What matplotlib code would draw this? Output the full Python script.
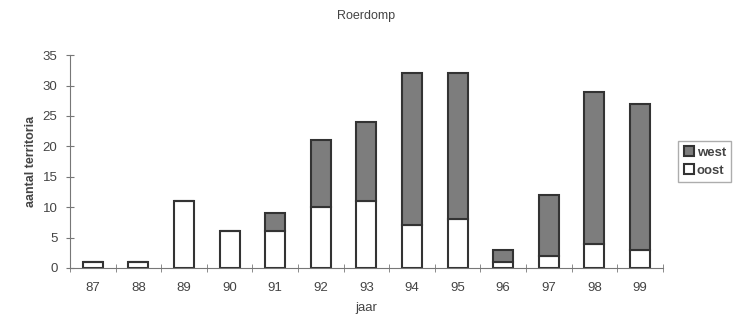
import numpy as np
import matplotlib.pyplot as plt

plt.rcParams['font.family'] = ['Liberation Sans', 'DejaVu Sans']

jaren = ['87', '88', '89', '90', '91', '92', '93', '94', '95', '96', '97', '98', '99']
oost = [1, 1, 11, 6, 6, 10, 11, 7, 8, 1, 2, 4, 3]
west = [0, 0, 0, 0, 3, 11, 13, 25, 24, 2, 10, 25, 24]

fig = plt.figure(figsize=(7.41, 3.28), dpi=100)
ax = fig.add_axes([0.0945, 0.183, 0.80, 0.649])

x = np.arange(len(jaren))
edge = '#333333'
ax.bar(x, oost, width=0.44, color='white', edgecolor=edge, linewidth=1.5, label='oost')
ax.bar(x, west, width=0.44, bottom=oost, color='#7d7d7d', edgecolor=edge,
       linewidth=1.5, label='west')

ax.set_xlim(-0.5, len(jaren) - 0.5)
ax.set_ylim(0, 35)
ax.set_yticks(range(0, 36, 5))
ax.set_xticks(x)
ax.set_xticklabels(jaren)
ax.set_xticks(np.arange(-0.5, len(jaren)), minor=True)
ax.tick_params(axis='x', which='major', length=0, pad=10)
ax.tick_params(axis='x', which='minor', length=6, direction='inout', color='#777777')
ax.tick_params(axis='y', length=6, direction='inout', color='#777777', pad=6)
ax.tick_params(labelsize=9.5, labelcolor='#444444')

for s in ['top', 'right']:
    ax.spines[s].set_visible(False)
for s in ['left', 'bottom']:
    ax.spines[s].set_color('#777777')

ax.set_title('Roerdomp', fontsize=9, color='#444444', pad=26)
ax.set_xlabel('jaar', fontsize=9.5, color='#444444', labelpad=6)
ax.set_ylabel('aantal territoria', fontsize=9, color='#444444', fontweight='bold')

h, l = ax.get_legend_handles_labels()
leg = ax.legend(h[::-1], l[::-1], loc='center left', bbox_to_anchor=(1.015, 0.5),
                prop={'size': 9.5, 'weight': 'bold'}, frameon=True, fancybox=False,
                handlelength=0.8, handleheight=0.8, handletextpad=0.2, borderpad=0.4,
                labelspacing=0.4)
leg.get_frame().set_edgecolor('#999999')
for t in leg.get_texts():
    t.set_color('#444444')

fig.savefig('out.png', dpi=100)
